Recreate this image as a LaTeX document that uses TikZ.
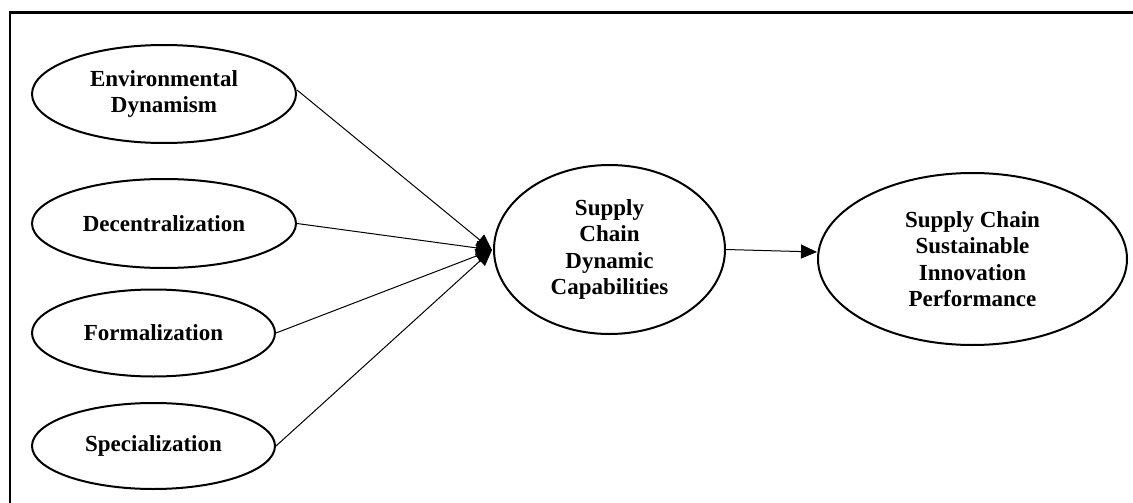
\documentclass[tikz,border=0pt]{standalone}
\usepackage{fontspec}
\setmainfont{Liberation Serif}
\usetikzlibrary{arrows.meta,shapes.geometric}
\tikzset{
  oval/.style={draw, ellipse, line width=2pt, inner sep=0pt, align=center,
    font=\fontsize{23}{26.5}\selectfont\bfseries},
  conn/.style={line width=1pt, -{Triangle[length=16pt,width=14pt]}},
}
\begin{document}
\begin{tikzpicture}[x=1pt,y=-1pt]
\useasboundingbox (0,0) rectangle (1133,503);
\begin{scope}
\clip (0,0) rectangle (1133,503);
\draw[line width=2.2pt] (10,12.5) rectangle (1145,515);
\end{scope}
\node[oval, minimum width=264pt, minimum height=98pt] (env) at (164,94) {Environmental\\Dynamism};
\node[oval, minimum width=264pt, minimum height=89pt] (dec) at (164,223.5) {Decentralization};
\node[oval, minimum width=243pt, minimum height=87pt] (form) at (153.5,333) {Formalization};
\node[oval, minimum width=243pt, minimum height=86pt] (spec) at (153.5,446) {Specialization};
\node[oval, minimum width=231pt, minimum height=169pt] (scdc) at (609.5,249.5) {Supply\\Chain\\Dynamic\\Capabilities};
\node[oval, minimum width=309pt, minimum height=172pt] (scsip) at (972.5,259) {Supply Chain\\Sustainable\\Innovation\\Performance};
\coordinate (tip) at (492,250);
\draw[conn] ([yshift=4pt]env.east) -- (tip);
\draw[conn] (dec.east) -- (tip);
\draw[conn] (form.east) -- (tip);
\draw[conn] (spec.east) -- (tip);
\draw[conn] (scdc.east) -- ([yshift=7pt]scsip.west);
\end{tikzpicture}
\end{document}
